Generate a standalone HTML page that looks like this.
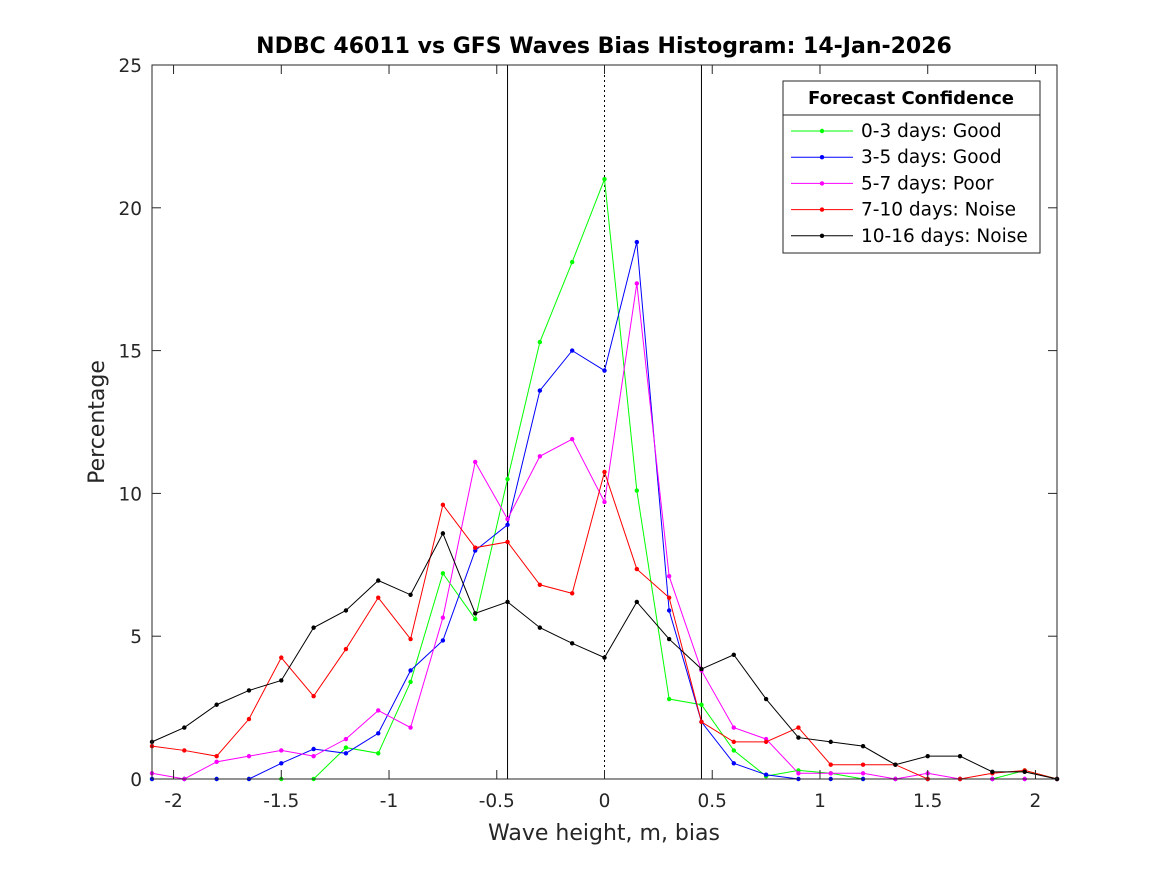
<!DOCTYPE html>
<html><head><meta charset="utf-8"><style>
body{margin:0;background:#fff}
svg{display:block;font-family:"DejaVu Sans","Liberation Sans",sans-serif}
</style></head><body>
<svg id="chart" width="1167" height="875">
<rect width="1167" height="875" fill="#fff"/>
<g id="grid"></g>
<g id="series"></g>
<g id="axes"></g>
<g id="legend"></g>
</svg>
<script>
const xCats=[-2.1,-1.95,-1.8,-1.65,-1.5,-1.35,-1.2,-1.05,-0.9,-0.75,-0.6,-0.45,-0.3,-0.15,0,0.15,0.3,0.45,0.6,0.75,0.9,1.05,1.2,1.35,1.5,1.65,1.8,1.95,2.1];
const green=[0,0,0,0,0,0,1.1,0.9,3.4,7.2,5.6,10.5,15.3,18.1,21.0,10.1,2.8,2.6,1.0,0.1,0.3,0.2,0.0,0,0,0,0,0.3,0];
const blue=[0,0,0,0,0.55,1.05,0.9,1.6,3.8,4.85,8.0,8.9,13.6,15.0,14.3,18.8,5.9,2.0,0.55,0.15,0,0,0,0,0,0,0,0,0];
const magenta=[0.2,0,0.6,0.8,1.0,0.8,1.4,2.4,1.8,5.65,11.1,9.1,11.3,11.9,9.7,17.35,7.1,3.8,1.8,1.4,0.2,0.2,0.2,0,0.2,0,0,0,0];
const red=[1.15,1.0,0.8,2.1,4.25,2.9,4.55,6.35,4.9,9.6,8.1,8.3,6.8,6.5,10.75,7.35,6.35,2.0,1.3,1.3,1.8,0.5,0.5,0.5,0,0,0.2,0.3,0];
const black=[1.3,1.8,2.6,3.1,3.45,5.3,5.9,6.95,6.45,8.6,5.8,6.2,5.3,4.75,4.25,6.2,4.9,3.85,4.35,2.8,1.45,1.3,1.15,0.5,0.8,0.8,0.25,0.25,0];
const seriesNames=["0-3 days: Good","3-5 days: Good","5-7 days: Poor","7-10 days: Noise","10-16 days: Noise"];
const xTicks=[-2,-1.5,-1,-0.5,0,0.5,1,1.5,2];
const xTickLabels=["-2","-1.5","-1","-0.5","0","0.5","1","1.5","2"];
const yTicks=[0,5,10,15,20,25];
const refLines=[-0.45,0,0.45];

const L=152,R=1057,T=65,B=779,xmin=-2.1,xmax=2.1,ymin=0,ymax=25;
const sx=v=>L+(v-xmin)/(xmax-xmin)*(R-L);
const sy=v=>B-(v-ymin)/(ymax-ymin)*(B-T);
const NS="http://www.w3.org/2000/svg";
function mk(tag,attrs,parent,text){const e=document.createElementNS(NS,tag);for(const k in attrs)e.setAttribute(k,attrs[k]);if(text!==undefined)e.textContent=text;parent.appendChild(e);return e;}
const axes=document.getElementById('axes'),ser=document.getElementById('series'),grid=document.getElementById('grid'),leg=document.getElementById('legend');

refLines.forEach(v=>{
 const l=mk('line',{x1:sx(v),x2:sx(v),y1:T,y2:B,stroke:'#000','stroke-width':1,'stroke-dasharray':v===0?'2,3':'none'},grid);
 
 
});

const colors=['#00ff00','#0000ff','#ff00ff','#ff0000','#000000'];
const data=[green,blue,magenta,red,black];
const keys=['green','blue','magenta','red','black'];
data.forEach((arr,i)=>{
 const g=mk('g',{},ser);
 
 
 const pts=arr.map((v,j)=>sx(xCats[j])+','+sy(v)).join(' ');
 const pl=mk('polyline',{points:pts,fill:'none',stroke:colors[i],'stroke-width':1},g);
 
 
 arr.forEach((v,j)=>{
  const c=mk('circle',{cx:sx(xCats[j]),cy:sy(v),r:2.2,fill:colors[i]},g);
  
  
 });
});

const box=mk('rect',{x:L,y:T,width:R-L,height:B-T,fill:'none',stroke:'#262626','stroke-width':1},axes);


xTicks.forEach((v,i)=>{
 mk('line',{x1:sx(v),x2:sx(v),y1:B,y2:B-9,stroke:'#262626'},axes);
 mk('line',{x1:sx(v),x2:sx(v),y1:T,y2:T+9,stroke:'#262626'},axes);
 const t=mk('text',{x:sx(v),y:B+28,'text-anchor':'middle','font-size':18.5,fill:'#262626'},axes,xTickLabels[i]);
 
 
});
yTicks.forEach(v=>{
 mk('line',{x1:L,x2:L+9,y1:sy(v),y2:sy(v),stroke:'#262626'},axes);
 mk('line',{x1:R,x2:R-9,y1:sy(v),y2:sy(v),stroke:'#262626'},axes);
 const t=mk('text',{x:L-10,y:sy(v)+7,'text-anchor':'end','font-size':18.5,fill:'#262626'},axes,String(v));
 
 
});
const title=mk('text',{x:604,y:53,'text-anchor':'middle','font-size':22,'font-weight':'bold',fill:'#000'},axes,'NDBC 46011 vs GFS Waves Bias Histogram: 14-Jan-2026');


const xt=mk('text',{x:604,y:840,'text-anchor':'middle','font-size':22,fill:'#262626'},axes,'Wave height, m, bias');


const yt=mk('text',{x:104,y:422,'text-anchor':'middle','font-size':22,fill:'#262626',transform:'rotate(-90 104 422)'},axes,'Percentage');



const lb=mk('rect',{x:783,y:81,width:257,height:172,fill:'#fff',stroke:'#262626'},leg);


mk('line',{x1:783,x2:1040,y1:115,y2:115,stroke:'#262626'},leg);
const lt=mk('text',{x:911,y:104,'text-anchor':'middle','font-size':18,'font-weight':'bold',fill:'#000'},leg,'Forecast Confidence');


seriesNames.forEach((n,i)=>{
 const y=131+i*26.2;
 const g=mk('g',{},leg);
 
 
 mk('line',{x1:791,x2:853,y1:y,y2:y,stroke:colors[i]},g);
 mk('circle',{cx:822,cy:y,r:2.2,fill:colors[i]},g);
 mk('text',{x:861,y:y+6,'font-size':18.5,fill:'#000'},g,n);
});
</script>
</body></html>
